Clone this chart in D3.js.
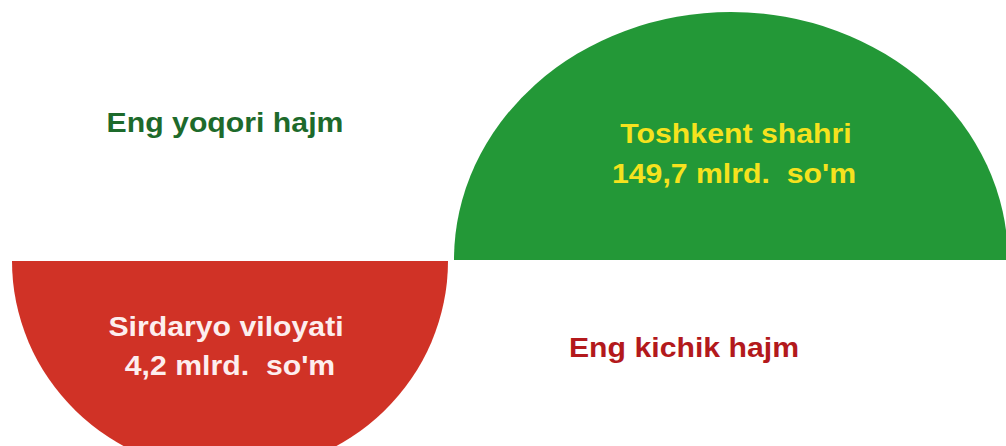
<!DOCTYPE html>
<html>
<head>
<meta charset="utf-8">
<script src="https://cdn.jsdelivr.net/npm/d3@7"></script>
<style>
  html, body { margin: 0; padding: 0; background: #fff; }
  svg { display: block; }
  text { font-family: "Liberation Sans", Arial, sans-serif; font-weight: bold; white-space: pre; }
</style>
</head>
<body>
<div id="chart"></div>
<script>
// data
const regions = ["Toshkent shahri", "Sirdaryo viloyati"];
const values = [149.7, 4.2];
const unit = "mlrd.  so'm";
const headings = ["Eng yoqori hajm", "Eng kichik hajm"];

const width = 1006;
const height = 446;
const stretch = 1.12; // the source picture is a bit wider than tall

// uzbek number format: comma as decimal mark
const uz = d3.formatLocale({ decimal: ",", thousands: " ", grouping: [3], currency: ["", ""] });
const fmt = uz.format(".1f");

// where each half-disc sits: the biggest one on top right, the smallest bottom left
const shape = d3.scaleOrdinal()
    .domain(regions)
    .range([
        { cx: 731, cy: 260, rx: 277, ry: 248, start: -Math.PI / 2, end: Math.PI / 2, fill: "#239837", text: "#f6e21e", y1: 143, y2: 183, tx: 736, tx2: 734 },
        { cx: 230, cy: 261, rx: 218, ry: 212, start: Math.PI / 2, end: Math.PI * 1.5, fill: "#d03226", text: "#fdeeee", y1: 336, y2: 375, tx: 226, tx2: 230 }
    ]);

const headingPos = d3.scaleOrdinal()
    .domain(headings)
    .range([
        { x: 225, y: 132, color: "#1d6a2b" },
        { x: 684, y: 357, color: "#b3191c" }
    ]);

const svg = d3.select("#chart").append("svg")
    .attr("width", width)
    .attr("height", height)
    .attr("viewBox", [0, 0, width, height]);

const arc = d3.arc().innerRadius(0).outerRadius(1);

const halves = svg.append("g")
    .selectAll("g")
    .data(regions.map((r, i) => ({ name: r, value: values[i] })))
    .join("g");

halves.append("path")
    .attr("transform", d => { const s = shape(d.name); return `translate(${s.cx},${s.cy}) scale(${s.rx},${s.ry})`; })
    .attr("d", d => { const s = shape(d.name); return arc({ startAngle: s.start, endAngle: s.end }); })
    .attr("fill", d => shape(d.name).fill);

halves.append("text")
    .attr("transform", d => `translate(${shape(d.name).tx},${shape(d.name).y1}) scale(${stretch},1)`)
    .attr("text-anchor", "middle")
    .attr("font-size", 27)
    .attr("fill", d => shape(d.name).text)
    .text(d => d.name);

halves.append("text")
    .attr("transform", d => `translate(${shape(d.name).tx2},${shape(d.name).y2}) scale(${stretch},1)`)
    .attr("text-anchor", "middle")
    .attr("font-size", 27)
    .attr("fill", d => shape(d.name).text)
    .text(d => fmt(d.value) + " " + unit);

svg.append("g")
    .selectAll("text")
    .data(headings)
    .join("text")
    .attr("transform", d => `translate(${headingPos(d).x},${headingPos(d).y}) scale(${stretch},1)`)
    .attr("text-anchor", "middle")
    .attr("font-size", 27)
    .attr("fill", d => headingPos(d).color)
    .text(d => d);
</script>
</body>
</html>
